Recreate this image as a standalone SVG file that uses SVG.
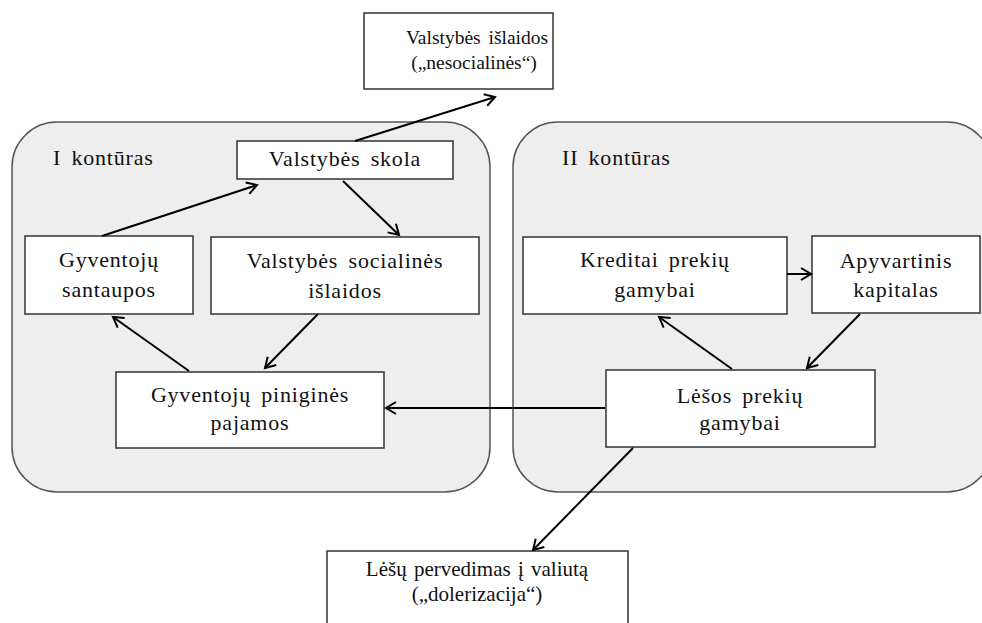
<svg xmlns="http://www.w3.org/2000/svg" width="982" height="623" viewBox="0 0 982 623">
<style>
.bg{fill:#ffffff}
.cont{fill:#eeeeee;stroke:#555555;stroke-width:1.5}
.box{fill:#ffffff;stroke:#333333;stroke-width:1.5}
text{font-family:'Liberation Serif','Times New Roman','DejaVu Serif',serif;font-size:22px;fill:#111111;letter-spacing:0.8px;word-spacing:4px}
.c{text-anchor:middle}
.plain{font-size:21px;letter-spacing:0;word-spacing:2px}
.small{font-size:19.5px;letter-spacing:0;word-spacing:3px}
.conn line{stroke:#000000;stroke-width:2;fill:none;marker-end:url(#arr)}
</style>
<defs>
<marker id="arr" markerUnits="userSpaceOnUse" markerWidth="16" markerHeight="16" refX="13" refY="8" orient="auto">
<path d="M3,2 L13,8 L3,14" fill="none" stroke="#000000" stroke-width="2"/>
</marker>
</defs>
<rect class="bg" x="0" y="0" width="982" height="623"/>
<g id="kontur1">
<rect class="cont" x="12" y="122" width="478" height="370" rx="45" ry="45"/>
<text x="53" y="165">I kontūras</text>
</g>
<g id="kontur2">
<rect class="cont" x="513" y="122" width="479" height="370" rx="45" ry="45"/>
<text x="562" y="165">II kontūras</text>
</g>
<g id="valstybes-islaidos">
<rect class="box" x="364" y="13" width="189" height="76"/>
<text class="c small" x="477" y="44">Valstybės išlaidos</text>
<text class="c small" x="474" y="69">(„nesocialinės“)</text>
</g>
<g id="valstybes-skola">
<rect class="box" x="237" y="141" width="216" height="38"/>
<text class="c" x="345" y="166">Valstybės skola</text>
</g>
<g id="gyventoju-santaupos">
<rect class="box" x="25" y="236" width="168" height="78"/>
<text class="c" x="109" y="267">Gyventojų</text>
<text class="c" x="109" y="297">santaupos</text>
</g>
<g id="socialines-islaidos">
<rect class="box" x="211" y="237" width="268" height="77"/>
<text class="c" x="345" y="268">Valstybės socialinės</text>
<text class="c" x="345" y="298">išlaidos</text>
</g>
<g id="kreditai">
<rect class="box" x="523" y="237" width="264" height="77"/>
<text class="c" x="655" y="267">Kreditai prekių</text>
<text class="c" x="655" y="297">gamybai</text>
</g>
<g id="apyvartinis">
<rect class="box" x="812" y="236" width="168" height="77"/>
<text class="c" x="896" y="268">Apyvartinis</text>
<text class="c" x="896" y="297">kapitalas</text>
</g>
<g id="pinigines-pajamos">
<rect class="box" x="116" y="372" width="268" height="76"/>
<text class="c" x="250" y="402">Gyventojų piniginės</text>
<text class="c" x="250" y="430">pajamos</text>
</g>
<g id="lesos">
<rect class="box" x="606" y="370" width="269" height="77"/>
<text class="c" x="740" y="403">Lėšos prekių</text>
<text class="c" x="740" y="430">gamybai</text>
</g>
<g id="dolerizacija">
<rect class="box" x="327" y="551" width="301" height="80"/>
<text class="c plain" x="477" y="576">Lėšų pervedimas į valiutą</text>
<text class="c plain" x="477" y="601">(„dolerizacija“)</text>
</g>
<g class="conn" id="connectors">
<line x1="355" y1="141" x2="495" y2="97"/>
<line x1="102" y1="236" x2="257" y2="185"/>
<line x1="343" y1="181" x2="399" y2="235"/>
<line x1="318" y1="314" x2="265" y2="368"/>
<line x1="189" y1="371" x2="113" y2="317"/>
<line x1="605" y1="408" x2="386" y2="408"/>
<line x1="732" y1="369" x2="659" y2="317"/>
<line x1="860" y1="314" x2="807" y2="368"/>
<line x1="787" y1="274" x2="811" y2="274"/>
<line x1="633" y1="448" x2="533" y2="550"/>
</g>
</svg>
